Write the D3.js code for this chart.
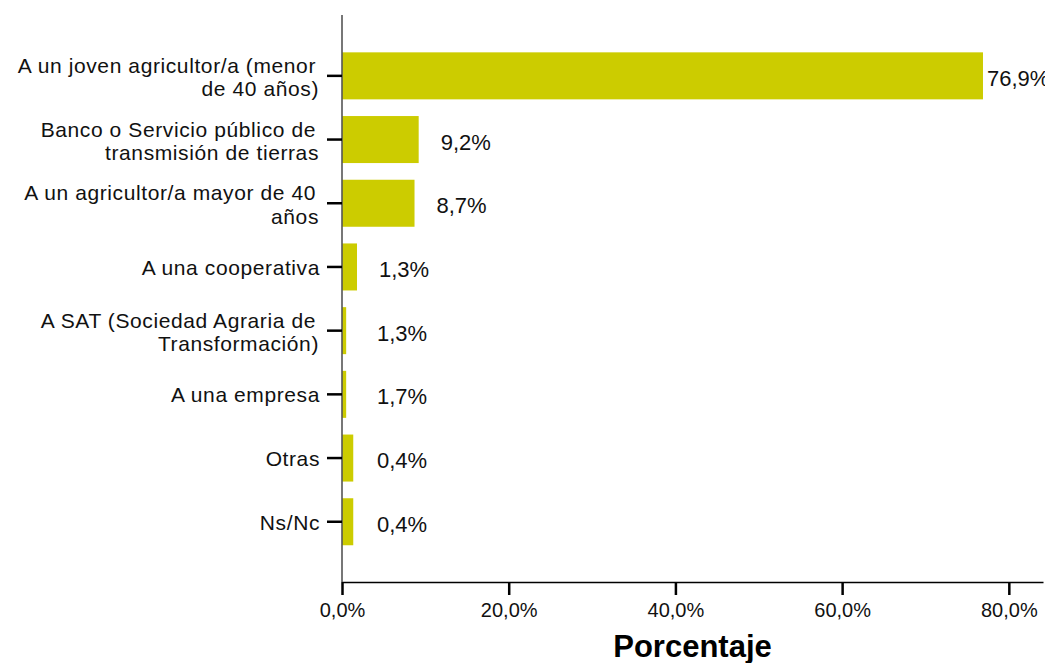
<!DOCTYPE html>
<html>
<head>
<meta charset="utf-8">
<script src="https://cdn.jsdelivr.net/npm/d3@7"></script>
<style>
  html, body { margin: 0; padding: 0; background: #fff; }
  svg { display: block; font-family: "Liberation Sans", Arial, Helvetica, sans-serif; }
</style>
</head>
<body>
<svg id="chart" width="1045" height="663"></svg>
<script>
// ---- data ----
const categories = [
  ["A un joven agricultor/a (menor", "de 40 años)"],
  ["Banco o Servicio público de", "transmisión de tierras"],
  ["A un agricultor/a mayor de 40", "años"],
  ["A una cooperativa"],
  ["A SAT (Sociedad Agraria de", "Transformación)"],
  ["A una empresa"],
  ["Otras"],
  ["Ns/Nc"]
];
const values = [76.9, 9.2, 8.7, 1.8, 0.5, 0.5, 1.35, 1.35];
const valueLabels = ["76,9%", "9,2%", "8,7%", "1,3%", "1,3%", "1,7%", "0,4%", "0,4%"];
const xTicks = [0, 20, 40, 60, 80];
const xTitle = "Porcentaje";

// ---- layout ----
const W = 1045, H = 663;
const plotLeft = 342, plotRight = 1043, plotTop = 15, plotBottom = 582;
const barColor = "#cccc00";

const svg = d3.select("#chart");

const x = d3.scaleLinear().domain([0, 84.1]).range([plotLeft, plotRight]);
const y = d3.scaleBand()
  .domain(d3.range(categories.length))
  .range([44, 553.6])
  .paddingInner(0.262)
  .paddingOuter(0.131);

// bars
svg.append("g").selectAll("rect")
  .data(values)
  .join("rect")
  .attr("x", x(0))
  .attr("y", (d, i) => y(i))
  .attr("width", d => x(d) - x(0))
  .attr("height", y.bandwidth())
  .attr("fill", barColor);

// y axis line
svg.append("line")
  .attr("x1", x(0)).attr("x2", x(0))
  .attr("y1", plotTop).attr("y2", plotBottom)
  .attr("stroke", "#555").attr("stroke-width", 1.6);

// y ticks
const yAxis = d3.axisLeft(y).tickSize(15).tickFormat(() => "");
const gy = svg.append("g").attr("transform", `translate(${x(0)},0)`).call(yAxis);
gy.select(".domain").remove();
gy.selectAll(".tick line").attr("stroke", "#000").attr("stroke-width", 2.5);

// category labels (each line its own text element)
const catG = svg.append("g")
  .attr("font-size", 21)
  .attr("letter-spacing", 0.6)
  .attr("fill", "#111")
  .attr("text-anchor", "end");
categories.forEach((lines, i) => {
  const cy = y(i) + y.bandwidth() / 2;
  if (lines.length === 1) {
    catG.append("text").attr("x", plotLeft - 22).attr("y", cy + 8).text(lines[0]);
  } else {
    catG.append("text").attr("x", plotLeft - 26).attr("y", cy - 3).text(lines[0]);
    catG.append("text").attr("x", plotLeft - 23).attr("y", cy + 20.5).text(lines[1]);
  }
});

// value labels
svg.append("g")
  .attr("font-size", 22)
  .attr("fill", "#111")
  .selectAll("text")
  .data(values)
  .join("text")
  .attr("x", d => {
    const xs = Math.max(x(d) + 22, x(0) + 35);
    return xs + 50 > W ? x(d) + 4 : xs;
  })
  .attr("y", (d, i) => y(i) + y.bandwidth() / 2 + 10)
  .text((d, i) => valueLabels[i]);

// x axis
const xAxis = d3.axisBottom(x)
  .tickValues(xTicks)
  .tickSize(13)
  .tickSizeOuter(0)
  .tickFormat(d => d.toFixed(1).replace(".", ",") + "%");
const gx = svg.append("g").attr("transform", `translate(0,${plotBottom})`).call(xAxis);
gx.select(".domain").attr("stroke", "#000").attr("stroke-width", 1.6);
gx.selectAll(".tick line").attr("stroke", "#000").attr("stroke-width", 2.5);
gx.selectAll(".tick text")
  .attr("font-size", 20)
  .attr("font-family", "'Liberation Sans', Arial, sans-serif")
  .attr("fill", "#111")
  .attr("dy", 0)
  .attr("y", 35);

// x title
svg.append("text")
  .attr("x", (plotLeft + plotRight) / 2)
  .attr("y", 657)
  .attr("text-anchor", "middle")
  .attr("font-size", 31)
  .attr("font-weight", "bold")
  .attr("fill", "#000")
  .text(xTitle);
</script>
</body>
</html>
